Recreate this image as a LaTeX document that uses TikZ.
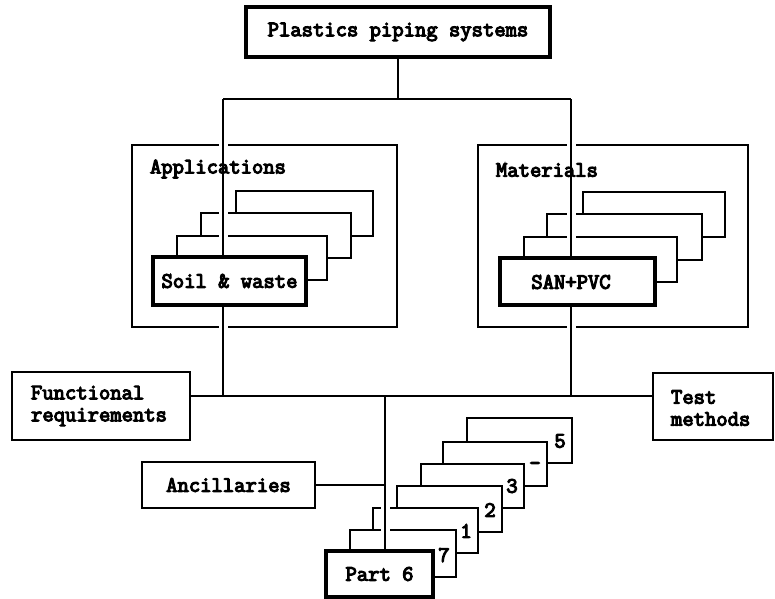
\documentclass[tikz,border=0pt]{standalone}
\usepackage{fontspec}
\setmonofont{Latin Modern Mono}[AutoFakeBold=5]
\tikzset{
  box/.style={draw, line width=1.6pt, fill=white, inner sep=0pt, outer sep=0pt},
  thickbox/.style={box, line width=3.6pt},
  txt/.style={font=\fontsize{22}{22}\selectfont\ttfamily\bfseries, inner sep=0pt, outer sep=0pt},
  num/.style={font=\fontsize{22}{22}\selectfont\ttfamily\bfseries, inner sep=0pt},
  conn/.style={line width=1.6pt},
  halo/.style={white, line width=9pt}
}
\newcommand\mybox[7][]{\node[box,#1,minimum width={(#5-#3)*1pt},minimum height={(#6-#4)*1pt}] (#2) at ({(#3+#5)/2},{(#4+#6)/2}) {#7};}
\begin{document}
\begin{tikzpicture}[x=1pt,y=-1pt]
\useasboundingbox (0,0) rectangle (775,598);
% top
\mybox[thickbox,txt]{top}{246}{7}{550}{57}{Plastics piping systems}
% big frames
\mybox{app}{132}{145}{397}{327}{}
\mybox{mat}{478}{145}{748}{327}{}
% application cards
\mybox{a4}{236}{191}{373}{236}{}
\mybox{a3}{201}{213}{351}{258}{}
\mybox{a2}{177}{236}{327}{280}{}
% material cards
\mybox{m4}{583}{192}{725}{237}{}
\mybox{m3}{547}{214}{702}{260}{}
\mybox{m2}{524}{237}{677}{282}{}
% side boxes
\mybox{func}{12}{372}{190}{440}{}
\mybox{test}{653}{373}{773}{440}{}
\mybox[txt]{anc}{142}{462}{315}{508}{Ancillaries}
% part cards
\mybox{p5}{467}{418}{572}{463}{}
\mybox{p4}{443}{442}{547}{486}{}
\mybox{p3}{421}{464}{524}{508}{}
\mybox{p2}{397}{486}{502}{532}{}
\mybox{p1}{373}{508}{478}{553}{}
\mybox{p7}{350}{530}{456}{577}{}
\node[num] (n5) at ([xshift=-12pt,yshift=22pt]p5.south east) {5};
\node[num] (n4) at ([xshift=-12pt,yshift=20pt]p4.south east) {-};
\node[num] (n3) at ([xshift=-12pt,yshift=22pt]p3.south east) {3};
\node[num] (n2) at ([xshift=-12pt,yshift=22pt]p2.south east) {2};
\node[num] (n1) at ([xshift=-12pt,yshift=22pt]p1.south east) {1};
\node[num] (n7) at ([xshift=-12pt,yshift=22pt]p7.south east) {7};
% junction coordinates
\coordinate (ja) at (223,99);
\coordinate (jm) at (571,99);
\coordinate (ba) at (223,396);
\coordinate (bm) at (571,396);
\coordinate (jp) at (385,396);
\coordinate (pe) at (385,551);
% halos
\draw[halo] (ja) -- (ba);
\draw[halo] (jm) -- (bm);
\draw[halo] (jp) -- (pe);
% connectors
\draw[conn] (top.south) -- (top.south |- ja);
\draw[conn] (ja) -- (jm);
\draw[conn] (ja) -- (ba);
\draw[conn] (jm) -- (bm);
\draw[conn] (func.east |- ba) -- (test.west |- bm);
\draw[conn] (jp) -- (pe);
\draw[conn] (anc.east) -- (anc.east -| jp);
% front boxes
\mybox[thickbox,txt]{soil}{153}{257}{306}{305}{Soil \& waste}
\mybox[thickbox]{san}{500}{258}{655}{305}{}
\node[txt] (santxt) at (571,282) {SAN+PVC};
\mybox[thickbox,txt]{part6}{326}{551}{433}{597}{Part 6}
% texts
\node[txt,anchor=west] (apptxt) at (150,169) {Applications};
\node[txt,anchor=west] (mattxt) at (496,170) {Materials};
\node[txt,anchor=west,align=left] (functxt) at (31,406) {Functional\\requirements};
\node[txt,anchor=west,align=left] (testtxt) at (671,408) {Test\\methods};
\end{tikzpicture}
\end{document}
